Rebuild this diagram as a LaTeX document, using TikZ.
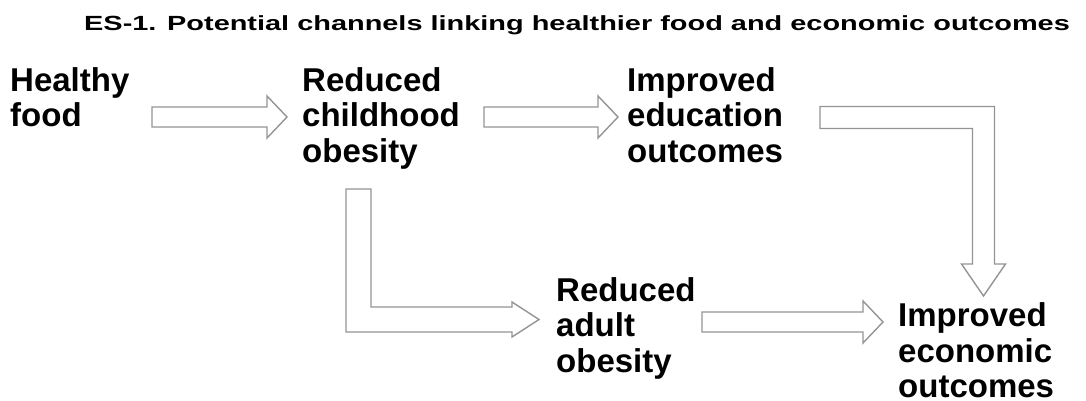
\documentclass[tikz,border=0pt]{standalone}
\usepackage{graphicx}
\usepackage{fontspec}
\setmainfont{Liberation Sans}
\usetikzlibrary{calc}

\tikzset{
  box/.style={anchor=base west, inner sep=0pt, align=left,
    font=\fontsize{33}{35.5}\selectfont\bfseries},
  blockarrow/.style={draw=black!42, line width=1.4pt, fill=white, line join=miter},
}

\begin{document}
\begin{tikzpicture}[x=1pt,y=1pt]
    \useasboundingbox (0,0) rectangle (1086,-401);
    % title
    \node[anchor=base west, inner sep=0pt, font=\fontsize{20.5}{24}\selectfont\bfseries] (title) at (84,-31)
        {\scalebox{1.41}[1]{ES-1. Potential channels linking healthier food and economic outcomes}};
    % the five boxes of text (placed by the baseline of their last line)
    \node[box] (food) at (10,-126.5) {Healthy\\food};
    \node[box] (child) at (302,-162) {Reduced\\childhood\\obesity};
    \node[box] (edu) at (627,-162) {Improved\\education\\outcomes};
    \node[box] (adult) at (556,-372) {Reduced\\adult\\obesity};
    \node[box] (econ) at (898,-397.5) {Improved\\economic\\outcomes};
    % ends of the block arrows
    \coordinate (food-out) at (152,-117);
    \coordinate (child-in) at (287,-117);
    \coordinate (child-out) at (484,-117);
    \coordinate (edu-in) at (618,-117);
    \coordinate (edu-out) at (820,-117.5);
    \coordinate (edu-bend) at (983.5,-117.5);
    \coordinate (econ-top) at (983.5,-296);
    \coordinate (child-down) at (358.5,-189);
    \coordinate (child-bend) at (358.5,-319.5);
    \coordinate (adult-in) at (539,-319.5);
    \coordinate (adult-out) at (702,-322);
    \coordinate (econ-in) at (883,-322);
    % straight arrows
    \foreach \a/\b in {food-out/child-in, child-out/edu-in, adult-out/econ-in}
        \draw[blockarrow] let \p1=(\a), \p2=(\b) in
            (\x1,\y1+10pt) -- (\x2-20pt,\y1+10pt) -- (\x2-20pt,\y1+21pt) -- (\x2,\y1)
            -- (\x2-20pt,\y1-21pt) -- (\x2-20pt,\y1-10pt) -- (\x1,\y1-10pt) -- cycle;
    % bent arrow down to economic outcomes
    \draw[blockarrow] let \p1=(edu-out), \p2=(edu-bend), \p3=(econ-top) in
        (\x1,\y1+11pt) -- (\x2+11pt,\y1+11pt) -- (\x2+11pt,\y3+32pt) -- (\x2+22pt,\y3+32pt)
        -- (\x3,\y3) -- (\x2-22pt,\y3+32pt) -- (\x2-11pt,\y3+32pt) -- (\x2-11pt,\y1-11pt)
        -- (\x1,\y1-11pt) -- cycle;
    % bent arrow down then right to adult obesity
    \draw[blockarrow] let \p1=(child-down), \p2=(child-bend), \p3=(adult-in) in
        (\x1-12.5pt,\y1) -- (\x1+12.5pt,\y1) -- (\x1+12.5pt,\y2+12.5pt) -- (\x3-27pt,\y2+12.5pt)
        -- (\x3-27pt,\y2+17.5pt) -- (\x3,\y3) -- (\x3-27pt,\y2-17.5pt) -- (\x3-27pt,\y2-12.5pt)
        -- (\x1-12.5pt,\y2-12.5pt) -- cycle;
\end{tikzpicture}
\end{document}
